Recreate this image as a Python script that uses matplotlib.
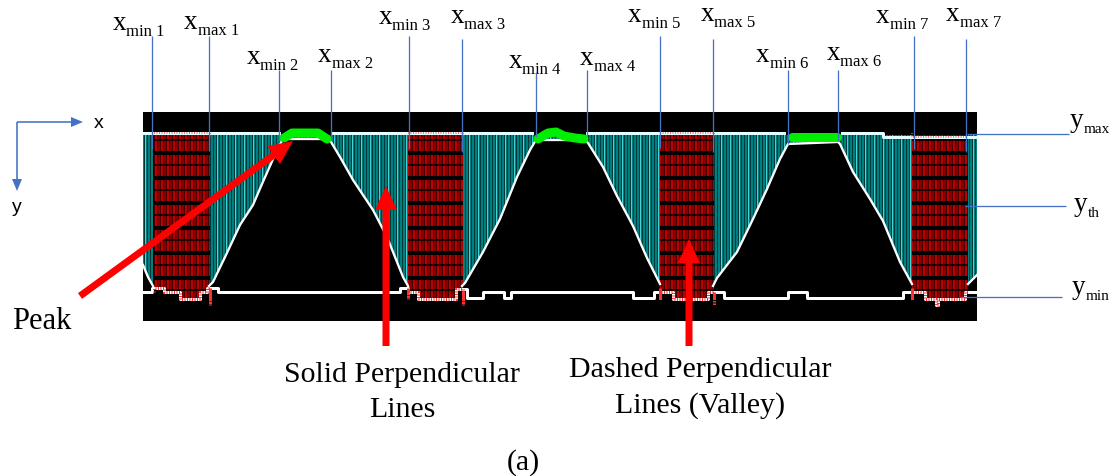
import numpy as np
import matplotlib
matplotlib.use("Agg")
import matplotlib.pyplot as plt
from matplotlib.patches import Rectangle
from matplotlib.path import Path

W, H = 1113, 477
SERIF = "Liberation Serif"
SANS = "Liberation Sans"
BLUE = "#4472c4"

# labels above the panel (x_min / x_max markers)
MARK_SUB = ["min 1", "max 1", "min 2", "max 2", "min 3", "max 3", "min 4",
            "max 4", "min 5", "max 5", "min 6", "max 6", "min 7", "max 7"]
MARK_TEXT_X = [113, 184, 247, 318, 379, 451, 509, 580, 628, 701, 756, 827, 876, 946]
MARK_BASELINE = [30, 29, 64, 62, 24, 23, 68, 65, 22, 21, 62, 60, 23, 21]
MARK_X = [152, 209, 279, 331, 409, 462, 536, 587, 660, 713, 788, 838, 914, 966]
MARK_TOP = [37, 37, 71, 71, 37, 40, 73, 71, 37, 40, 71, 71, 37, 40]
MARK_BOTTOM = [150, 152, 142, 141, 150, 153, 138, 137, 149, 153, 145, 142, 150, 153]

# y reference levels on the right
LEVEL_SUB = ["max", "th", "min"]
LEVEL_Y = [135, 207, 298]
LEVEL_LINE_X0 = [967, 965, 960]
LEVEL_LINE_X1 = [1069, 1066, 1062]
LEVEL_TEXT_X = [1070, 1074, 1072]
LEVEL_BASELINE = [127, 211, 294]

# signal profile in image pixels (y grows downwards), nan = valley gap
TOP_LEVEL = 136
CURVE_X = [143, 148, 153, 180, 209, 213, 226, 240, 253, 262, 270, 277, 283,
           327, 331, 340, 353, 373, 387, 403, 408, 435, 462, 465, 483, 500,
           517, 530, 536, 585, 588, 603, 617, 633, 647, 660, 687, 713, 717,
           737, 753, 767, 780, 788, 838, 840, 853, 870, 883, 900, 912, 940,
           968, 973, 977]
CURVE_Y = [266, 278, 287, np.nan, 287, 283, 256, 226, 206, 185, 167, 151, 140,
           140, 143, 158, 181, 211, 238, 278, 287, np.nan, 287, 284, 253, 220,
           178, 151, 141, 141, 144, 168, 197, 227, 259, 285, np.nan, 287, 279,
           253, 220, 190, 160, 145, 143, 145, 173, 200, 222, 263, 285, np.nan,
           285, 280, 276]

TOP_X = [143, 279, 280, 333, 532, 533, 587, 784, 785, 842, 883, 883, 977]
TOP_Y = [134, 134, np.nan, 134, 134, np.nan, 134, 134, np.nan, 134, 134, 138, 138]

BOTTOM_X = [143, 152, 164, 180, 200, 207, 218, 400, 408, 418, 456, 467, 483,
            504, 511, 633, 654, 673, 708, 724, 788, 807, 903, 925, 936, 938,
            965, 977]
BOTTOM_Y = [293, 289, 293, 300, 293, 289, 293, 289, 293, 300, 290, 298.5, 293,
            298.5, 293, 298.5, 293, 300, 293, 298.5, 293, 298.5, 293, 300, 306,
            300, 293, 293]

VALLEY_LO = [154, 408, 660, 912]
VALLEY_HI = [210, 463, 714, 968]

PEAK_X = [[284, 292, 318, 327], [538, 548, 556, 564, 575, 584], [792, 837]]
PEAK_Y = [[139, 134, 134, 140], [140, 134, 133, 137, 139, 140], [138, 138]]

# red call-out arrows: tail -> tip
ARROW_FROM = [(80, 297), (386, 347), (689, 347)]
ARROW_TO = [(293, 142), (386, 187), (689, 240)]


def px(n):
    """pixels -> points at dpi=100"""
    return n * 0.72


plt.rcParams["lines.scale_dashes"] = False

fig = plt.figure(figsize=(W / 100, H / 100), dpi=100)
ax = fig.add_axes([0, 0, 1, 1])
ax.set_xlim(0, W)
ax.set_ylim(H, 0)
ax.axis("off")

ax.add_patch(Rectangle((143, 113), 834, 209, facecolor="black", zorder=1))

# teal band between y_max and the signal
curve_y = np.array(CURVE_Y, dtype=float)
teal = ax.fill_between(CURVE_X, TOP_LEVEL, curve_y, facecolor="#007f80",
                       linewidth=0, zorder=2)
teal_clip = Path.make_compound_path(*teal.get_paths())
for xs, col in ((np.arange(143.5, 977, 3), "#013a3b"),
                (np.arange(145, 977, 9), "#46d2d2")):
    lc = ax.vlines(xs, 113, 322, colors=col, linewidth=px(1), zorder=2.1)
    lc.set_clip_path(teal_clip, ax.transData)

# red dashed fill in the valleys
red_paths = []
for lo, hi in zip(VALLEY_LO, VALLEY_HI):
    coll = ax.fill_between(np.clip(BOTTOM_X, lo, hi), TOP_LEVEL, BOTTOM_Y,
                           step="post", facecolor="#4a0000", linewidth=0, zorder=3)
    red_paths.extend(coll.get_paths())
red_clip = Path.make_compound_path(*red_paths)
lc = ax.vlines(np.arange(143.5, 977, 3), 113, 322, colors=["#c80000", "#8e0000"],
               linewidth=px(1.8), zorder=3.1)
lc.set_clip_path(red_clip, ax.transData)
for ys, lw in ((np.arange(154, 300, 25), 4), (np.arange(141, 300, 25), 1.5)):
    lc = ax.hlines(ys, 143, 977, colors="black", linewidth=px(lw), zorder=3.2)
    lc.set_clip_path(red_clip, ax.transData)

# white outlines
ax.plot(CURVE_X, curve_y, color="white", linewidth=px(2.3), zorder=4)
ax.plot(TOP_X, TOP_Y, color="#e4ffff", linewidth=px(3), zorder=4)
ax.step(BOTTOM_X, BOTTOM_Y, where="post", color="white", linewidth=px(3), zorder=4)
for lo, hi in zip(VALLEY_LO, VALLEY_HI):
    ax.step(np.clip(BOTTOM_X, lo, hi), BOTTOM_Y, where="post", color="#ff3030",
            linewidth=px(3), dashes=(px(1), px(1.5)), zorder=4.1)
    ax.plot(np.clip(TOP_X, lo, hi), TOP_Y, color="#ff5050",
            linewidth=px(1.5), dashes=(px(1), px(1.5)), zorder=4.1)

# green peaks
for xs, ys in zip(PEAK_X, PEAK_Y):
    ax.plot(xs, ys, color="#00ee00", linewidth=px(9), solid_capstyle="round", zorder=5)

# marker lines and labels
ax.vlines(MARK_X, MARK_TOP, MARK_BOTTOM, colors=BLUE, linewidth=px(1.3), zorder=6)
ax.hlines(LEVEL_Y, LEVEL_LINE_X0, LEVEL_LINE_X1, colors=BLUE, linewidth=px(1.3), zorder=6)

for sub, x, base in zip(MARK_SUB, MARK_TEXT_X, MARK_BASELINE):
    ax.text(x, base, "x", family=SERIF, size=19.5, va="baseline", ha="left")
    ax.text(x + 13.5, base + 6, sub, family=SERIF, size=12, va="baseline", ha="left")
for sub, x, base in zip(LEVEL_SUB, LEVEL_TEXT_X, LEVEL_BASELINE):
    ax.text(x, base, "y", family=SERIF, size=19.5, va="baseline", ha="left")
    ax.text(x + 13.5, base + 6, sub, family=SERIF, size=11, va="baseline", ha="left")

# small x / y orientation arrows
ax.arrow(17, 123, 66, 0, width=1.6, head_width=10, head_length=12,
         length_includes_head=True, color=BLUE, linewidth=0)
ax.arrow(17, 123, 0, 69, width=1.6, head_width=10, head_length=12,
         length_includes_head=True, color=BLUE, linewidth=0)
ax.text(99, 123, "x", family=SANS, size=14, ha="center", va="center")
ax.text(17, 208, "y", family=SANS, size=14, ha="center", va="center")

# red call-out arrows
for (x0, y0), (x1, y1) in zip(ARROW_FROM, ARROW_TO):
    ax.arrow(x0, y0, x1 - x0, y1 - y0, width=7, head_width=22, head_length=24,
             length_includes_head=True, facecolor="#ff0000", edgecolor="none", zorder=7)

ax.text(12, 329, "Peak", family=SERIF, size=22, va="baseline")
ax.text(402, 417, "Solid Perpendicular\nLines", family=SERIF, size=21.5,
        ha="center", va="baseline", linespacing=1.45)
ax.text(700, 413, "Dashed Perpendicular\nLines (Valley)", family=SERIF, size=21.5,
        ha="center", va="baseline", linespacing=1.45)
ax.text(523, 470, "(a)", family=SERIF, size=21.5, ha="center", va="baseline")

fig.savefig("out.png", dpi=100)
